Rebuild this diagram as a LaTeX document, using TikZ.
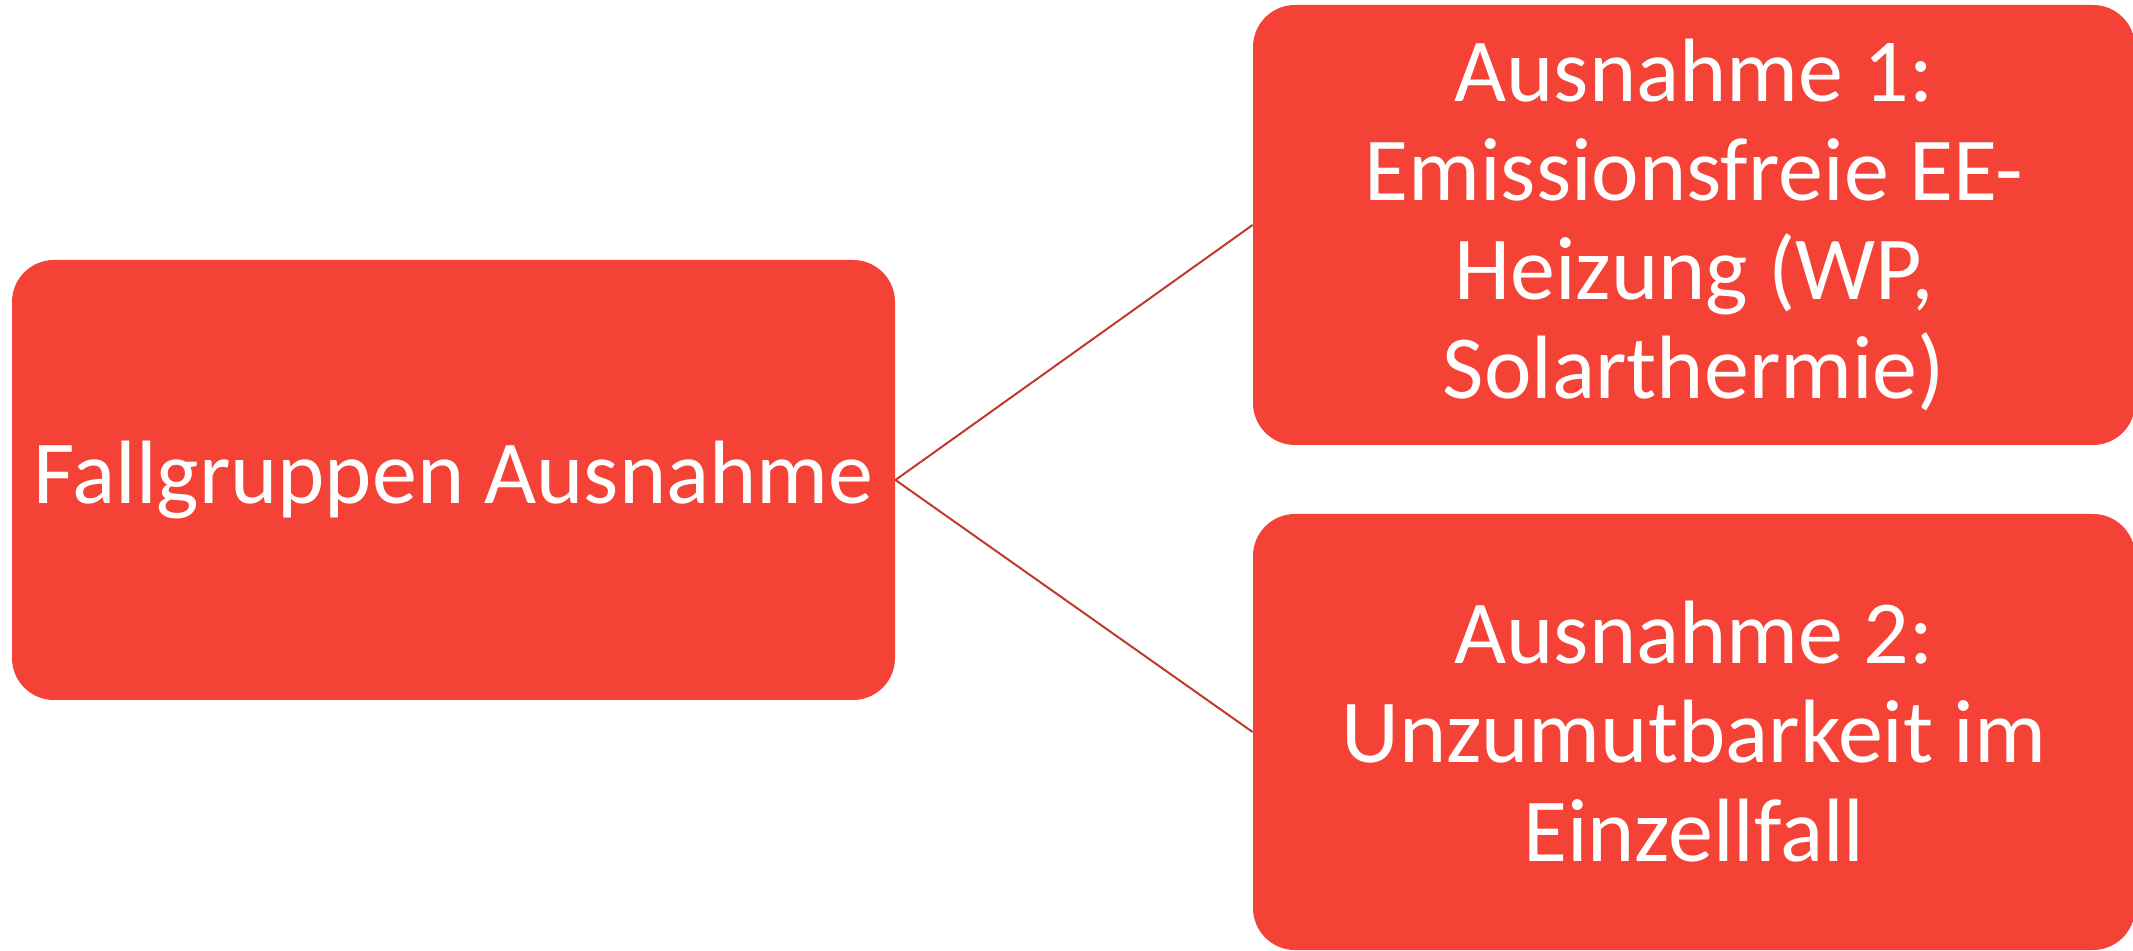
\documentclass[tikz,border=0pt]{standalone}
\usepackage{fontspec}
\setmainfont{Carlito}
\definecolor{boxred}{HTML}{F44336}
\definecolor{linkred}{HTML}{C0392B}
\begin{document}
\begin{tikzpicture}[x=0.5pt,y=-0.5pt,
  box/.style={draw=none, fill=boxred, rounded corners=21pt, text=white,
    align=center, font=\fontsize{45}{49.5}\selectfont, inner sep=0pt},
  link/.style={draw=linkred, line width=1pt}]
\useasboundingbox (0,0) rectangle (2133,951);
% root category
\node[box, minimum width=441.5pt, minimum height=220pt] (root) at (453.5,480)
  {Fallgruppen Ausnahme};
% the two exceptions
\node[box, minimum width=441pt, minimum height=220pt] (ex1) at (1694,225)
  {Ausnahme 1:\\Emissionsfreie EE-\\Heizung (WP,\\Solarthermie)};
\node[box, minimum width=441pt, minimum height=218pt] (ex2) at (1694,732)
  {Ausnahme 2:\\Unzumutbarkeit im\\Einzellfall};
% connectors
\draw[link] (root.east) -- (ex1.west);
\draw[link] (root.east) -- (ex2.west);
\end{tikzpicture}
\end{document}
